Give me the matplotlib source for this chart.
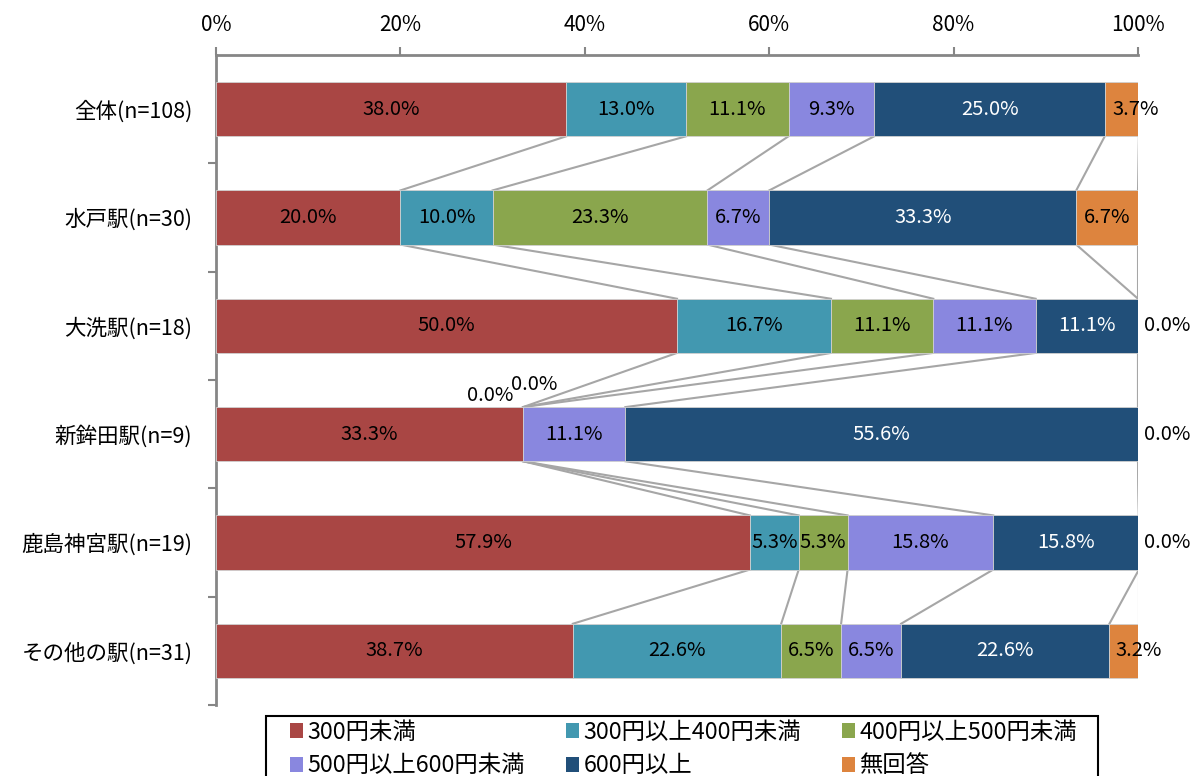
import matplotlib
matplotlib.use("Agg")
import matplotlib.pyplot as plt
import numpy as np
from matplotlib.patches import Patch, Rectangle

plt.rcParams['font.family'] = ['Noto Sans CJK JP', 'DejaVu Sans']

categories = ["全体(n=108)", "水戸駅(n=30)", "大洗駅(n=18)", "新鉾田駅(n=9)",
              "鹿島神宮駅(n=19)", "その他の駅(n=31)"]
series_names = ["300円未満", "300円以上400円未満", "400円以上500円未満",
                "500円以上600円未満", "600円以上", "無回答"]
under300 = [38.0, 20.0, 50.0, 33.3, 57.9, 38.7]
from300to400 = [13.0, 10.0, 16.7, 0.0, 5.3, 22.6]
from400to500 = [11.1, 23.3, 11.1, 0.0, 5.3, 6.5]
from500to600 = [9.3, 6.7, 11.1, 11.1, 15.8, 6.5]
over600 = [25.0, 33.3, 11.1, 55.6, 15.8, 22.6]
no_answer = [3.7, 6.7, 0.0, 0.0, 0.0, 3.2]

colors = ["#A94644", "#4298B0", "#8AA64D", "#8987DF", "#214F79", "#DD843E"]
text_colors = ["black", "black", "black", "black", "white", "black"]

data = np.array([under300, from300to400, from400to500, from500to600, over600, no_answer])
n_cat = len(categories)
ypos = np.arange(n_cat)
bar_h = 0.5
fs_lab = 14.5

fig = plt.figure(figsize=(11.98, 7.76), dpi=100)
ax = fig.add_axes([216/1198, 1-705/776, (1138-216)/1198, (705-55)/776])

left = np.zeros(n_cat)
for j in range(data.shape[0]):
    ax.barh(ypos, data[j], left=left, height=bar_h, color=colors[j],
            edgecolor="#D0D0D0", linewidth=0.6, zorder=3)
    for i in range(n_cat):
        v = data[j][i]
        if v > 0:
            # narrow last segments: label pushed right a little, like the original
            dx = 14 if (j == data.shape[0] - 1 and v < 5) else 0
            ax.annotate(f"{v:.1f}%", (left[i] + v/2, ypos[i]), xytext=(dx, 0),
                        textcoords="offset pixels", ha="center", va="center",
                        fontsize=fs_lab, color=text_colors[j], zorder=5,
                        annotation_clip=False)
        elif j == data.shape[0] - 1:
            ax.annotate(f"{v:.1f}%", (100, ypos[i]), xytext=(6, 0),
                        textcoords="offset pixels", ha="left", va="center", fontsize=fs_lab,
                        annotation_clip=False)
        elif j == 1:
            ax.annotate(f"{v:.1f}%", (left[i], ypos[i]), xytext=(-33, 39),
                        textcoords="offset pixels", ha="center", va="center", fontsize=fs_lab)
        elif j == 2:
            ax.annotate(f"{v:.1f}%", (left[i], ypos[i]), xytext=(11, 50),
                        textcoords="offset pixels", ha="center", va="center", fontsize=fs_lab)
    left = left + data[j]

# series lines between bars
cum = np.cumsum(data, axis=0)
for i in range(n_cat - 1):
    for j in range(data.shape[0]):
        ax.plot([cum[j][i], cum[j][i + 1]], [ypos[i] + bar_h/2, ypos[i + 1] - bar_h/2],
                color="#A6A6A6", linewidth=1.5, zorder=2)

ax.set_xlim(0, 100)
ax.set_ylim(n_cat - 0.5, -0.5)
ax.xaxis.tick_top()
ax.set_xticks([0, 20, 40, 60, 80, 100])
ax.set_xticklabels(["0%", "20%", "40%", "60%", "80%", "100%"], fontsize=15)
ax.tick_params(axis="x", direction="out", length=6, width=1.5, color="#868686", pad=8)

ax.set_yticks(ypos)
ax.set_yticklabels(categories, fontsize=15.5)
ax.tick_params(axis="y", length=0, pad=17)
ax.set_yticks(np.arange(n_cat) + 0.5, minor=True)
ax.tick_params(axis="y", which="minor", direction="out", length=6, width=1.5, color="#868686")

for s in ["right", "bottom"]:
    ax.spines[s].set_visible(False)
for s in ["top", "left"]:
    ax.spines[s].set_color("#868686")
    ax.spines[s].set_linewidth(2)

# legend frame (runs off the bottom edge, as in the original)
fig.patches.append(Rectangle((266/1198, -0.02), (1098-266)/1198, 0.02 + (776-716)/776,
                             transform=fig.transFigure, fill=False,
                             edgecolor="black", linewidth=1.5))

handles = [Patch(facecolor=c) for c in colors]
order = [0, 3, 1, 4, 2, 5]
leg = fig.legend([handles[k] for k in order], [series_names[k] for k in order],
                 loc="upper left", bbox_to_anchor=(290/1198, 1-721/776), ncol=3,
                 fontsize=16.8, frameon=False, handlelength=0.55,
                 handleheight=0.6, handletextpad=0.2, columnspacing=1.75,
                 borderpad=0, labelspacing=0.45, borderaxespad=0)

fig.savefig("out.png", dpi=100)
